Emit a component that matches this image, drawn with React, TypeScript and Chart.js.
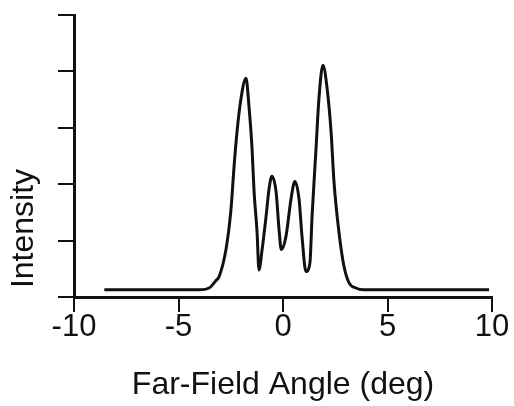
import React, { useEffect, useRef } from "react";
import { Chart, registerables } from "chart.js";

Chart.register(...registerables);

// Far-field angle (deg)
const angles: number[] = [
  -8.55, -4.02, -3.54, -3.21, -3.06, -2.73, -2.49, -2.34, -2.2, -2.01, -1.77,
  -1.63, -1.48, -1.39, -1.24, -1.15, -1.0, -0.81, -0.67, -0.53, -0.33, -0.19,
  -0.08, 0.14, 0.38, 0.57, 0.77, 0.91, 1.1, 1.29, 1.39, 1.58, 1.72, 1.91, 2.11,
  2.3, 2.44, 2.68, 2.92, 3.16, 3.49, 3.83, 9.86,
];
// Intensity (arbitrary units, axis 0..5)
const intensities: number[] = [
  0.13, 0.13, 0.16, 0.29, 0.36, 0.84, 1.55, 2.32, 2.93, 3.52, 3.88, 3.39, 2.63,
  1.91, 1.14, 0.48, 0.84, 1.43, 1.91, 2.14, 1.86, 1.2, 0.84, 1.07, 1.73, 2.05,
  1.73, 1.07, 0.45, 0.61, 1.43, 2.63, 3.52, 4.11, 3.7, 2.93, 2.04, 1.14, 0.54,
  0.25, 0.16, 0.13, 0.13,
];
const xTicks: number[] = [-10, -5, 0, 5, 10];
const yTicks: number[] = [0, 1, 2, 3, 4, 5];
const xTitle = "Far-Field Angle (deg)";
const yTitle = " Intensity";

export default function App() {
  const ref = useRef<HTMLCanvasElement | null>(null);

  useEffect(() => {
    if (!ref.current) return;
    const points = angles.map((a, i) => ({ x: a, y: intensities[i] }));
    const font = "'Liberation Sans', Arial, Helvetica, sans-serif";
    const chart = new Chart(ref.current, {
      type: "line",
      data: {
        datasets: [
          {
            data: points,
            borderColor: "#111111",
            borderWidth: 3,
            pointRadius: 0,
            fill: false,
            cubicInterpolationMode: "monotone",
          },
        ],
      },
      options: {
        animation: false,
        responsive: false,
        events: [],
        layout: { padding: { left: 0, right: 22, top: 15, bottom: 0 } },
        plugins: {
          legend: { display: false },
          tooltip: { enabled: false },
        },
        scales: {
          x: {
            type: "linear",
            min: xTicks[0],
            max: xTicks[xTicks.length - 1],
            afterBuildTicks: (s: any) => {
              s.ticks = xTicks.map((v) => ({ value: v }));
            },
            grid: {
              display: true,
              drawOnChartArea: false,
              drawTicks: true,
              tickLength: 15,
              color: "#111111",
              lineWidth: 2,
            },
            border: { display: true, color: "#111111", width: 3 },
            ticks: {
              color: "#111111",
              padding: 0,
              maxRotation: 0,
              autoSkip: false,
              font: { family: font, size: 31, lineHeight: 1 },
            },
            title: {
              display: true,
              text: xTitle,
              color: "#111111",
              font: { family: font, size: 32, lineHeight: 1.2 },
              padding: { top: 22.8, bottom: 1.8 },
            },
          },
          y: {
            type: "linear",
            min: yTicks[0],
            max: yTicks[yTicks.length - 1],
            afterBuildTicks: (s: any) => {
              s.ticks = yTicks.map((v) => ({ value: v }));
            },
            grid: {
              display: true,
              drawOnChartArea: false,
              drawTicks: true,
              tickLength: 16,
              color: "#111111",
              lineWidth: 2,
            },
            border: { display: true, color: "#111111", width: 3 },
            ticks: { display: false },
            title: {
              display: true,
              text: yTitle,
              align: "start",
              color: "#111111",
              font: { family: font, size: 32, lineHeight: 1.2 },
              padding: { top: 5, bottom: 14.6 },
            },
          },
        },
      },
    });
    return () => chart.destroy();
  }, []);

  return (
    <div style={{ position: "absolute", left: 0, top: 0, width: 514, height: 406, background: "#fff" }}>
      <canvas ref={ref} width={514} height={406} style={{ display: "block" }} />
    </div>
  );
}
